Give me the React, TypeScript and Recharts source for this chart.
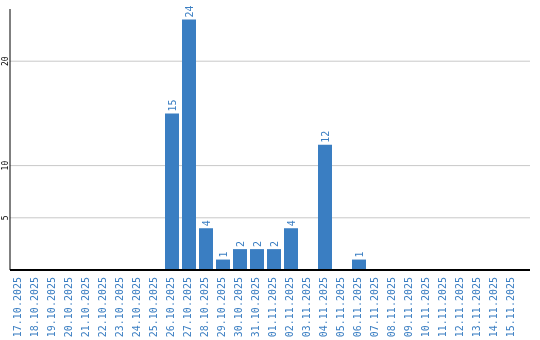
import { BarChart, Bar, XAxis, YAxis, CartesianGrid, LabelList } from 'recharts'

const dates = [
  '17.10.2025', '18.10.2025', '19.10.2025', '20.10.2025', '21.10.2025', '22.10.2025',
  '23.10.2025', '24.10.2025', '25.10.2025', '26.10.2025', '27.10.2025', '28.10.2025',
  '29.10.2025', '30.10.2025', '31.10.2025', '01.11.2025', '02.11.2025', '03.11.2025',
  '04.11.2025', '05.11.2025', '06.11.2025', '07.11.2025', '08.11.2025', '09.11.2025',
  '10.11.2025', '11.11.2025', '12.11.2025', '13.11.2025', '14.11.2025', '15.11.2025',
]
const counts = [0, 0, 0, 0, 0, 0, 0, 0, 0, 15, 24, 4, 1, 2, 2, 2, 4, 0, 12, 0, 1, 0, 0, 0, 0, 0, 0, 0, 0, 0]
const yTicks = [5, 10, 20]
const yMax = 25

const BLUE = '#3a7ec2'
const MONO = '"DejaVu Sans Mono", monospace'

const data = dates.map((d, i) => ({ date: d, count: counts[i] }))

// grid only at the labelled ticks
const gridRows = ({ yAxis, offset }: any) => {
  const s = yAxis && yAxis.scale
  return yTicks.map((t) => {
    if (typeof s === 'function') return s(t)
    if (s && typeof s.map === 'function') return s.map(t)
    return offset.top + offset.height * (1 - t / yMax)
  })
}

const XTick = (props: any) => {
  const { x, y, payload } = props
  const bx = x + 2
  const by = y - 1
  return (
    <text x={bx} y={by} transform={`rotate(-90, ${bx}, ${by})`} textAnchor="end"
      fontFamily={MONO} fontSize={10} fill={BLUE}>
      {payload.value}
    </text>
  )
}

const YTick = (props: any) => {
  const { y, payload } = props
  return (
    <text x={8} y={y} transform={`rotate(-90, 8, ${y})`} textAnchor="middle"
      fontFamily={MONO} fontSize={8} fill="#000">
      {payload.value}
    </text>
  )
}

const ValueLabel = (props: any) => {
  const { x, y, width, value } = props
  if (!value) return null
  const bx = x + width / 2 + 4
  const by = y - 2
  return (
    <text x={bx} y={by} transform={`rotate(-90, ${bx}, ${by})`} textAnchor="start"
      fontFamily={MONO} fontSize={10} fill={BLUE}>
      {value}
    </text>
  )
}

const App = () => {
  return (
    <div style={{ position: 'fixed', left: 0, top: 0 }}>
      <BarChart width={540} height={340} data={data}
        margin={{ top: 9, right: 10, bottom: 0, left: 0 }} barSize={14}>
        <CartesianGrid vertical={false} stroke="#c8c8c8"
          horizontalCoordinatesGenerator={gridRows} />
        <XAxis dataKey="date" interval={0} height={70} tickLine={false}
          axisLine={{ stroke: '#000', strokeWidth: 2 }} tick={<XTick />}
          padding={{ left: 0, right: 10 }} />
        <YAxis width={10} domain={[0, yMax]} ticks={yTicks} tickLine={false}
          axisLine={{ stroke: '#000' }} tick={<YTick />} />
        <Bar dataKey="count" fill={BLUE} isAnimationActive={false}>
          <LabelList dataKey="count" content={<ValueLabel />} />
        </Bar>
      </BarChart>
    </div>
  )
}

export default App
